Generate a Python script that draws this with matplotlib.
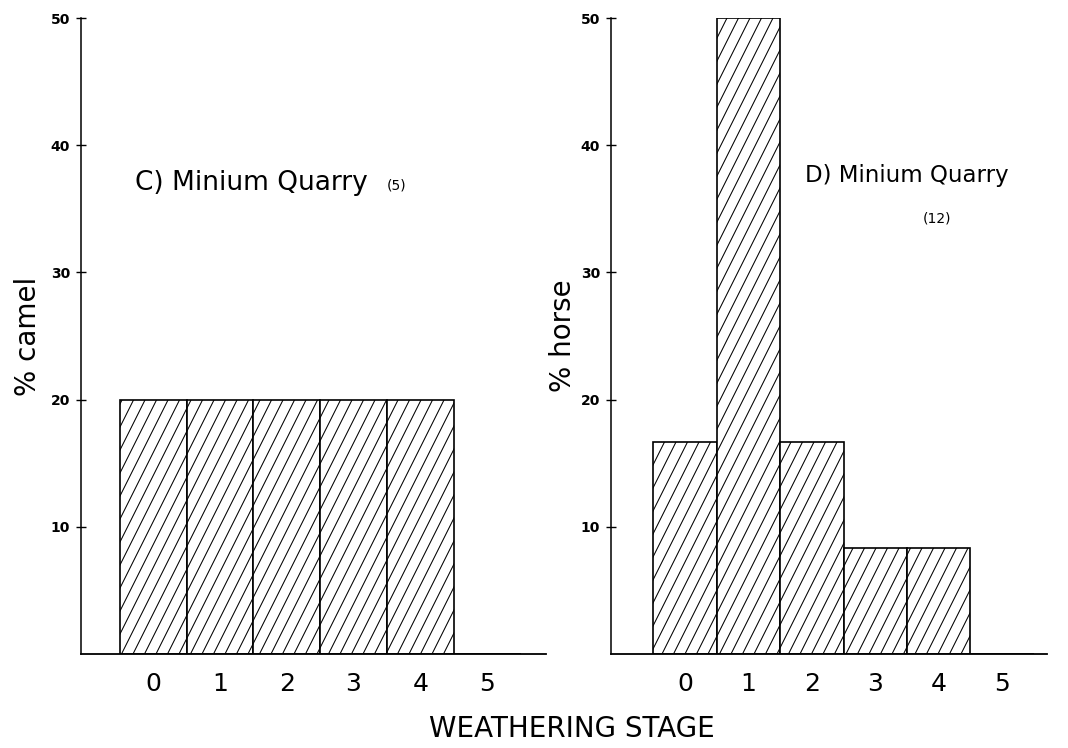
import numpy as np
import matplotlib
matplotlib.use("Agg")
import matplotlib.pyplot as plt
from matplotlib.collections import LineCollection

# weathering stages and percentages
stages = [0, 1, 2, 3, 4, 5]
camel_pct = [20.0, 20.0, 20.0, 20.0, 20.0, 0.0]
horse_pct = [16.7, 50.0, 16.7, 8.3, 8.3, 0.0]
y_ticks = [10, 20, 30, 40, 50]

plt.rcParams['font.family'] = ['DejaVu Sans']

fig = plt.figure(figsize=(10.68, 7.48), dpi=100)
ax1 = fig.add_axes([0.0758, 0.1257, 0.4354, 0.850])
ax2 = fig.add_axes([0.5721, 0.1257, 0.4082, 0.850])


def add_hatch(ax, bars):
    # steep diagonal hatch like the original print, drawn in inches
    W, H = fig.get_size_inches()
    step = 0.115
    slope = 2.0
    run = H / slope
    starts = np.arange(-run, W + step, step)
    segs = [[(x0, 0), (x0 + run, H)] for x0 in starts]
    for b in bars:
        if b.get_height() <= 0:
            continue
        lc = LineCollection(segs, colors='black', linewidths=0.75,
                            transform=fig.dpi_scale_trans)
        ax.add_collection(lc, autolim=False)
        lc.set_clip_path(b)


def style_axis(ax, xlim, ylabel, label_x):
    ax.set_xlim(*xlim)
    ax.set_ylim(0, 50)
    for s in ['top', 'right']:
        ax.spines[s].set_visible(False)
    ax.spines['left'].set_linewidth(1.1)
    ax.spines['bottom'].set_linewidth(1.3)
    ax.set_xticks(stages)
    ax.set_xticklabels([str(s) for s in stages], fontsize=18)
    ax.tick_params(axis='x', length=0, pad=13)
    ax.set_yticks(y_ticks)
    ax.set_yticklabels([str(t) for t in y_ticks], fontsize=10, fontweight='bold',
                       family=['Liberation Sans Narrow', 'DejaVu Sans'])
    ax.tick_params(axis='y', direction='inout', length=6.5, width=1, pad=4.5)
    ax.set_ylabel(ylabel, fontsize=20)
    ax.yaxis.set_label_coords(label_x, 0.5)


bars1 = ax1.bar(stages, camel_pct, width=1.0, facecolor='white',
                edgecolor='black', linewidth=1.2)
add_hatch(ax1, bars1)
style_axis(ax1, (-1.08, 5.88), '% camel', -0.084)
ax1.text(-0.27, 36.5, 'C) Minium Quarry', fontsize=19, va='baseline')
ax1.text(3.5, 36.5, '(5)', fontsize=10, va='baseline')

bars2 = ax2.bar(stages, horse_pct, width=1.0, facecolor='white',
                edgecolor='black', linewidth=1.2)
add_hatch(ax2, bars2)
style_axis(ax2, (-1.17, 5.71), '% horse', -0.078)
ax2.text(1.89, 37.1, 'D) Minium Quarry', fontsize=16.5, va='baseline')
ax2.text(3.75, 33.9, '(12)', fontsize=10, va='baseline')

fig.text(0.535, 0.025, 'WEATHERING STAGE', fontsize=20, ha='center', va='center')

fig.savefig('out.png', dpi=100)
